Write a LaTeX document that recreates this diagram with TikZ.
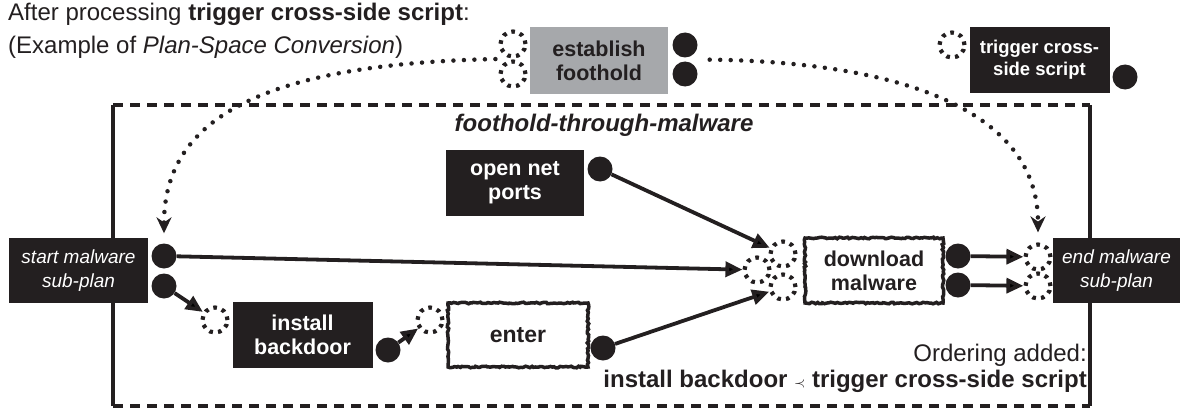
\documentclass[tikz,border=0pt]{standalone}
\usepackage{fontspec}
\setmainfont{Liberation Sans}
\usetikzlibrary{arrows.meta,calc,decorations.pathmorphing}
\definecolor{ink}{HTML}{231F20}
\definecolor{slate}{HTML}{A6A8AB}
\newcommand{\sz}[2]{\fontsize{#1}{#2}\selectfont}

\begin{document}
\begin{tikzpicture}[x=1pt,y=-1pt,>={Triangle[length=17pt,width=15pt]},
  act/.style={fill=ink,text=white,font=\sz{21.5}{24}\bfseries,align=center,inner sep=0pt,minimum width=140pt,minimum height=66pt},
  bound/.style={act,font=\sz{19}{24}\itshape},
  goal/.style={act,fill=slate,text=ink},
  rough/.style={act,fill=white,text=ink,draw=ink,line width=3.5pt,decorate,decoration={random steps,segment length=2pt,amplitude=0.8pt}},
  outcome/.style={circle,fill=ink,minimum size=25pt,inner sep=0pt},
  need/.style={circle,draw=ink,line width=4.2pt,dash pattern=on 3.6pt off 5.2pt,minimum size=25pt,inner sep=0pt},
  flow/.style={->,line width=3.8pt,draw=ink},
  link/.style={-{Stealth[length=16pt,width=15pt]},line width=4.5pt,draw=ink,line cap=round,dash pattern=on 0pt off 10.5pt},
  planframe/.style={line width=4pt,draw=ink},
  note/.style={inner sep=0pt,text=ink,font=\sz{24}{28}}]
    \useasboundingbox (0,0) rectangle (1188,412);

    % sub-plan frame
    \coordinate (nw) at (113,105);
    \coordinate (se) at (1090,406);
    \draw[planframe,dash pattern=on 10pt off 7pt] (nw) -- (nw -| se);
    \draw[planframe,dash pattern=on 10pt off 7pt] (nw |- se) -- (se);
    \draw[planframe] (nw) -- (nw |- se);
    \draw[planframe] (nw -| se) -- (se);

    % texts
    \node[note,anchor=west] (head) at (8,14) {After processing \textbf{trigger cross-side script}:};
    \node[note,anchor=west] (sub) at (8,47) {(Example of \textit{Plan-Space Conversion})};
    \node[note,font=\sz{24}{28}\bfseries\itshape] (plantitle) at (604,125) {foothold-through-malware};
    \node[note,anchor=east] (ordhead) at (1087,355) {Ordering added:};
    \node[note,anchor=east,font=\sz{24}{28}\bfseries] (ordrule) at (1087,381) {install backdoor {\sz{15}{15}$\prec$} trigger cross-side script};

    % steps
    \node[goal,minimum width=138pt,minimum height=67pt] (estab) at (599,60.5) {establish\\foothold};
    \node[act,font=\sz{18.5}{22}\bfseries] (trig) at (1039.5,60) {trigger cross-\\side script};
    \node[bound,minimum width=139pt,minimum height=65pt] (start) at (78.5,270.5) {start malware\\sub-plan};
    \node[bound,minimum width=127pt,minimum height=65pt] (finish) at (1116.5,270.5) {end malware\\sub-plan};
    \node[act,minimum width=138pt] (open) at (515,183) {open net\\ports};
    \node[act] (install) at (302.5,335) {install\\backdoor};
    \node[rough,font=\sz{23}{24}\bfseries,minimum height=64pt] (enter) at (518,335) {enter};
    \node[rough,minimum width=138pt,minimum height=65pt] (download) at (874,270.5) {download\\malware};

    % preconditions and effects
    \node[need] (ein1) at (513,44) {};
    \node[need] (ein2) at (513,74) {};
    \node[outcome] (eout1) at (685,45) {};
    \node[outcome] (eout2) at (685,74) {};
    \node[need] (tin) at (952,45) {};
    \node[outcome] (tout) at (1125,77) {};
    \node[outcome] (sout1) at (164,256) {};
    \node[outcome] (sout2) at (164,286) {};
    \node[need] (fin1) at (1038,257) {};
    \node[need] (fin2) at (1038,286) {};
    \node[outcome] (oout) at (600,169) {};
    \node[need] (iin) at (215,320) {};
    \node[outcome] (iout) at (388,350) {};
    \node[need] (nin) at (430,320) {};
    \node[outcome] (nout) at (603,348) {};
    \node[need] (din1) at (783,254) {};
    \node[need] (din2) at (757,270) {};
    \node[need] (din3) at (783,287) {};
    \node[outcome] (dout1) at (958,256) {};
    \node[outcome] (dout2) at (958,285) {};

    \path[flow]
        (sout1) edge (din2)
        (oout) edge (din1)
        (nout) edge (din3)
        (dout1) edge (fin1)
        (dout2) edge (fin2)
        (sout2) edge (iin)
        (iout) edge (nin)
        ;

    % plan-space links
    \draw[link,shorten <=3pt,shorten >=10pt] ($(ein1.west)!0.5!(ein2.west)$) .. controls (260,64) and (164,120) .. (sout1.north);
    \draw[link,shorten <=12pt,shorten >=10pt] ($(eout1.east)!0.5!(eout2.east)$) .. controls (900,62) and (1038,110) .. (fin1.north);
\end{tikzpicture}
\end{document}
